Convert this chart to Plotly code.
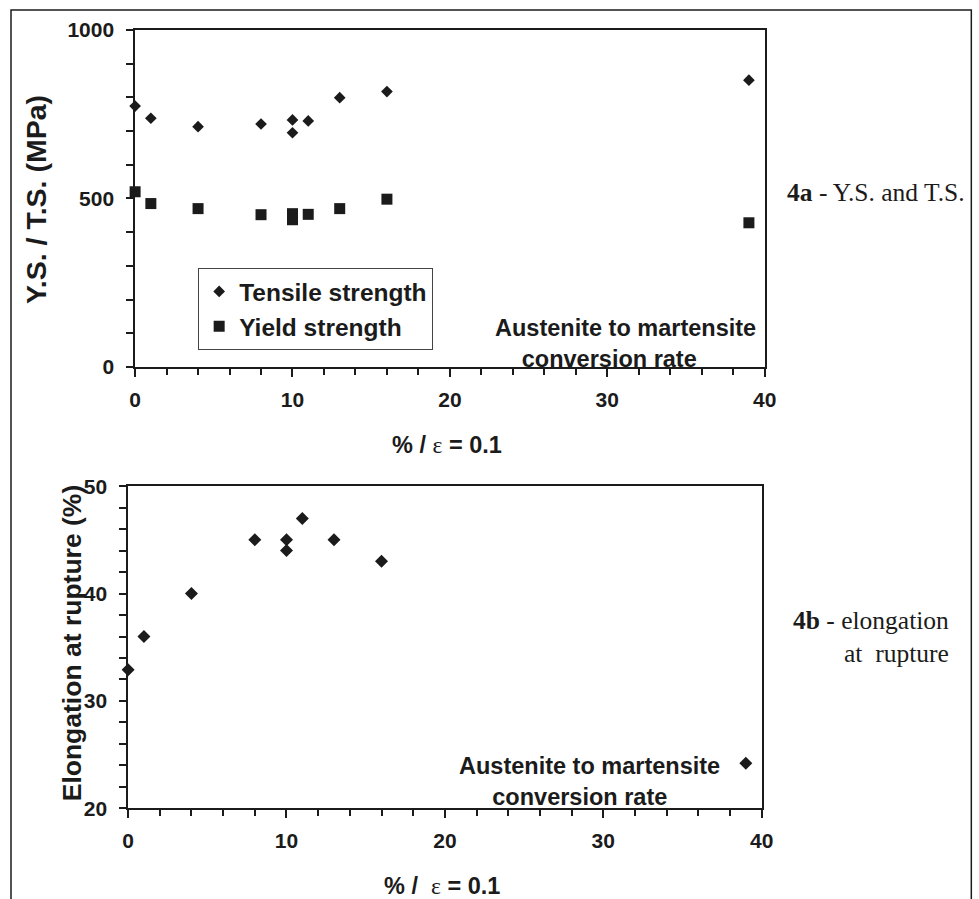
import plotly.graph_objects as go

# layout positions below are given in page pixels of the final 979x899 view;
# the figure is drawn a little larger and the page view shrinks it by ~2%
VIEW_SCALE_X, VIEW_SCALE_Y = 0.981, 0.9742
VIEW_OFF_X, VIEW_OFF_Y = 7.0, 12.1
W = round((979 - VIEW_OFF_X) / VIEW_SCALE_X)
H = round((899 - VIEW_OFF_Y) / VIEW_SCALE_Y)

# Austenite-to-martensite conversion rate (%) at eps = 0.1
conversion = [0, 1, 4, 8, 10, 10, 11, 13, 16, 39]
tensile_strength = [774, 738, 713, 721, 733, 695, 730, 799, 817, 851]
yield_strength = [520, 485, 470, 452, 455, 437, 453, 470, 498, 428]
elongation = [32.9, 36.0, 40.0, 45.0, 45.0, 44.0, 47.0, 45.0, 43.0, 24.2]

x_ticks = [0, 10, 20, 30, 40]
ys_ticks = [0, 500, 1000]
el_ticks = [20, 30, 40, 50]

INK = "#1b1b1b"
SANS = "Liberation Sans"
SERIF = "Liberation Serif"


def px(x):
    return (x - VIEW_OFF_X) / VIEW_SCALE_X / W


def py(y):
    return 1 - (y - VIEW_OFF_Y) / VIEW_SCALE_Y / H


fig = go.Figure()

fig.add_trace(go.Scatter(
    x=conversion, y=tensile_strength, mode="markers", name="Tensile strength",
    marker=dict(symbol="diamond", size=9, color=INK), cliponaxis=False,
    xaxis="x", yaxis="y", legendgroup="ts",
))
fig.add_trace(go.Scatter(
    x=conversion, y=yield_strength, mode="markers", name="Yield strength",
    marker=dict(symbol="square", size=11, color=INK), cliponaxis=False,
    xaxis="x", yaxis="y", legendgroup="ys",
))
fig.add_trace(go.Scatter(
    x=conversion, y=elongation, mode="markers", name="Elongation",
    marker=dict(symbol="diamond", size=10, color=INK), cliponaxis=False,
    xaxis="x2", yaxis="y2", showlegend=False,
))

tickfont = dict(family=SANS, size=21, color=INK, weight="bold")
line_common = dict(showline=True, linecolor=INK, linewidth=1.5, mirror=True,
                   showgrid=False, zeroline=False, tickcolor=INK, tickwidth=1.5)
inner_ticks = dict(ticks="inside", ticklen=7, tickcolor=INK, tickwidth=1.5,
                   showticklabels=False, showgrid=False, zeroline=False, showline=False)
minor_x = dict(dtick=2, ticks="outside", ticklen=6, tickcolor=INK, tickwidth=1.5)

top_x = [px(136), px(765)]
top_y = [py(367), py(30)]
bot_x = [px(129), px(762)]
bot_y = [py(808), py(486)]

fig.update_layout(
    width=W, height=H,
    margin=dict(l=0, r=0, t=0, b=0),
    paper_bgcolor="white", plot_bgcolor="white",
    xaxis=dict(domain=top_x, anchor="y", range=[0, 40], tickvals=x_ticks,
               ticks="outside", ticklen=8, tickfont=tickfont, ticklabelstandoff=5,
               minor=minor_x, **line_common),
    yaxis=dict(domain=top_y, anchor="x", range=[0, 1000], tickvals=ys_ticks,
               ticks="outside", ticklen=7, tickfont=tickfont, ticklabelstandoff=8,
               minor=dict(dtick=100, ticks="outside", ticklen=7, tickcolor=INK, tickwidth=1.5),
               **line_common),
    # inner half of the crossing major ticks on the top x axis
    xaxis3=dict(domain=top_x, anchor="y", overlaying="x", range=[0, 40],
                tickvals=x_ticks, **inner_ticks),
    xaxis2=dict(domain=bot_x, anchor="y2", range=[0, 40], tickvals=x_ticks,
                ticks="outside", ticklen=8, tickfont=tickfont, ticklabelstandoff=5,
                minor=minor_x, **line_common),
    yaxis2=dict(domain=bot_y, anchor="x2", range=[20, 50], tickvals=el_ticks,
                ticks="outside", ticklen=7, tickfont=tickfont, ticklabelstandoff=8,
                minor=dict(dtick=2, ticks="outside", ticklen=7, tickcolor=INK, tickwidth=1.5),
                **line_common),
    # inner halves of the crossing major ticks on the bottom chart
    xaxis4=dict(domain=bot_x, anchor="y2", overlaying="x2", range=[0, 40],
                tickvals=x_ticks, **inner_ticks),
    yaxis4=dict(domain=bot_y, anchor="x2", overlaying="y2", range=[20, 50],
                tickvals=el_ticks, **inner_ticks),
    legend=dict(x=px(199), y=py(268), xanchor="left", yanchor="top",
                bgcolor="white", bordercolor="#444", borderwidth=1,
                font=dict(family=SANS, size=24.5, color=INK, weight="bold"),
                itemwidth=30, tracegroupgap=0, itemsizing="trace"),
    showlegend=True,
)

label_font = dict(family=SANS, size=23.5, color=INK, weight="bold")
serif_font = dict(family=SERIF, size=25.5, color=INK)
EPS = '<span style="font-family:Liberation Serif;font-weight:normal">\u03b5</span>'
NB = "\u00a0"

annotations = [
    dict(text="Y.S. / T.S. (MPa)", x=px(37), y=py(200), textangle=-90,
         font=dict(family=SANS, size=28.5, color=INK, weight="bold")),
    dict(text="Elongation at rupture (%)", x=px(73), y=py(643), textangle=-90,
         font=dict(family=SANS, size=26.5, color=INK, weight="bold")),
    dict(text="Austenite to martensite<br>conversion rate" + NB * 5,
         x=px(626), y=py(343), font=label_font, align="center"),
    dict(text="Austenite to martensite<br>conversion rate" + NB * 3,
         x=px(590), y=py(781), font=label_font, align="center"),
    dict(text="% / " + EPS + " = 0.1", x=px(448), y=py(445), font=label_font),
    dict(text="% /  " + EPS + " = 0.1", x=px(443), y=py(886), font=label_font),
    dict(text="<b>4a</b> - Y.S. and T.S.", x=px(876), y=py(193), font=serif_font),
    dict(text="<b>4b</b> - elongation<br>at  rupture", x=px(951), y=py(637),
         font=serif_font, xanchor="right", align="right"),
]
for a in annotations:
    a.setdefault("xanchor", "center")
    fig.add_annotation(xref="paper", yref="paper", showarrow=False, yanchor="middle", **a)

# page frame around the figure panel
fig.add_shape(type="rect", xref="paper", yref="paper",
              x0=px(12), x1=px(971.5), y0=-0.05, y1=py(10),
              line=dict(color=INK, width=1.5), fillcolor="rgba(0,0,0,0)", layer="below")

fig.write_html("out.html")
